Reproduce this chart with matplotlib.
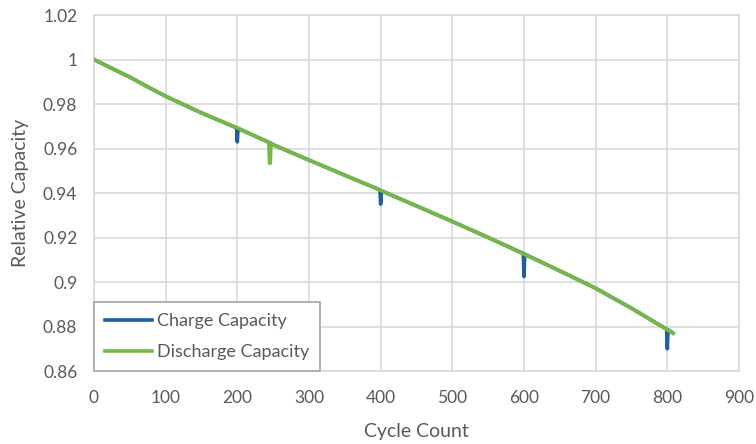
import matplotlib
matplotlib.use("Agg")
import matplotlib.pyplot as plt

plt.rcParams['font.family'] = ['Lato', 'DejaVu Sans']

# charge capacity (blue) - key points, spikes at 200/400/600/800
charge_cycle = [0, 25, 50, 75, 100, 150, 199, 200, 201, 246, 250, 300, 350,
                399, 400, 401, 450, 500, 550, 599, 600, 601, 650, 700, 750, 799, 800, 801, 808]
charge_cap = [1.0, 0.9960, 0.9921, 0.9877, 0.9835, 0.9760, 0.9693, 0.9630, 0.9690, 0.9625, 0.9617,
              0.9548, 0.9480, 0.9414, 0.9350, 0.9410, 0.9342, 0.9272, 0.9200, 0.9128, 0.9025,
              0.9125, 0.9050, 0.8972, 0.8882, 0.8788, 0.8700, 0.8785, 0.8770]

# discharge capacity (green) - one spike near cycle 246
discharge_cycle = [0, 25, 50, 75, 100, 150, 200, 244, 245, 246, 247, 250, 300, 350,
                   400, 450, 500, 550, 600, 650, 700, 750, 800, 808]
discharge_cap = [1.0, 0.9960, 0.9921, 0.9877, 0.9835, 0.9760, 0.9693, 0.9628, 0.9534, 0.9534, 0.9622,
                 0.9617, 0.9548, 0.9480, 0.9412, 0.9342, 0.9272, 0.9200, 0.9125, 0.9050,
                 0.8972, 0.8882, 0.8785, 0.8770]

grey = '#595959'
grid_c = '#d9d9d9'

fig = plt.figure(figsize=(7.56, 4.44), dpi=100)
ax = fig.add_axes([0.1243, 0.1644, 0.8532, 0.8018])

ax.plot(charge_cycle, charge_cap, color='#1f5ea6', lw=2.6, label='Charge Capacity', zorder=3)
ax.plot(discharge_cycle, discharge_cap, color='#76b942', lw=2.6, label='Discharge Capacity', zorder=4)

ax.set_xlim(0, 900)
ax.set_ylim(0.86, 1.02)
ax.set_xticks(range(0, 901, 100))
ax.set_yticks([0.86, 0.88, 0.9, 0.92, 0.94, 0.96, 0.98, 1.0, 1.02])
ax.set_yticklabels(['0.86', '0.88', '0.9', '0.92', '0.94', '0.96', '0.98', '1', '1.02'])
ax.grid(True, color=grid_c, lw=1.2)
ax.set_axisbelow(True)
for s in ax.spines.values():
    s.set_color(grid_c)
    s.set_linewidth(1.2)
ax.tick_params(length=0, labelsize=12.5, colors=grey)
ax.tick_params(axis='x', pad=14)
ax.tick_params(axis='y', pad=12)

ax.set_xlabel('Cycle Count', fontsize=14, color=grey, labelpad=12)
ax.set_ylabel('Relative Capacity', fontsize=14, color=grey, labelpad=10)

leg = ax.legend(loc='lower left', bbox_to_anchor=(0, 0), borderaxespad=0, fancybox=False,
                fontsize=13, handlelength=2.6, handletextpad=0.3, labelspacing=0.85,
                borderpad=0.6, framealpha=1)
leg.get_frame().set_edgecolor('#a6a6a6')
leg.get_frame().set_linewidth(1.2)
for t in leg.get_texts():
    t.set_color(grey)

fig.savefig('out.png', dpi=100)
